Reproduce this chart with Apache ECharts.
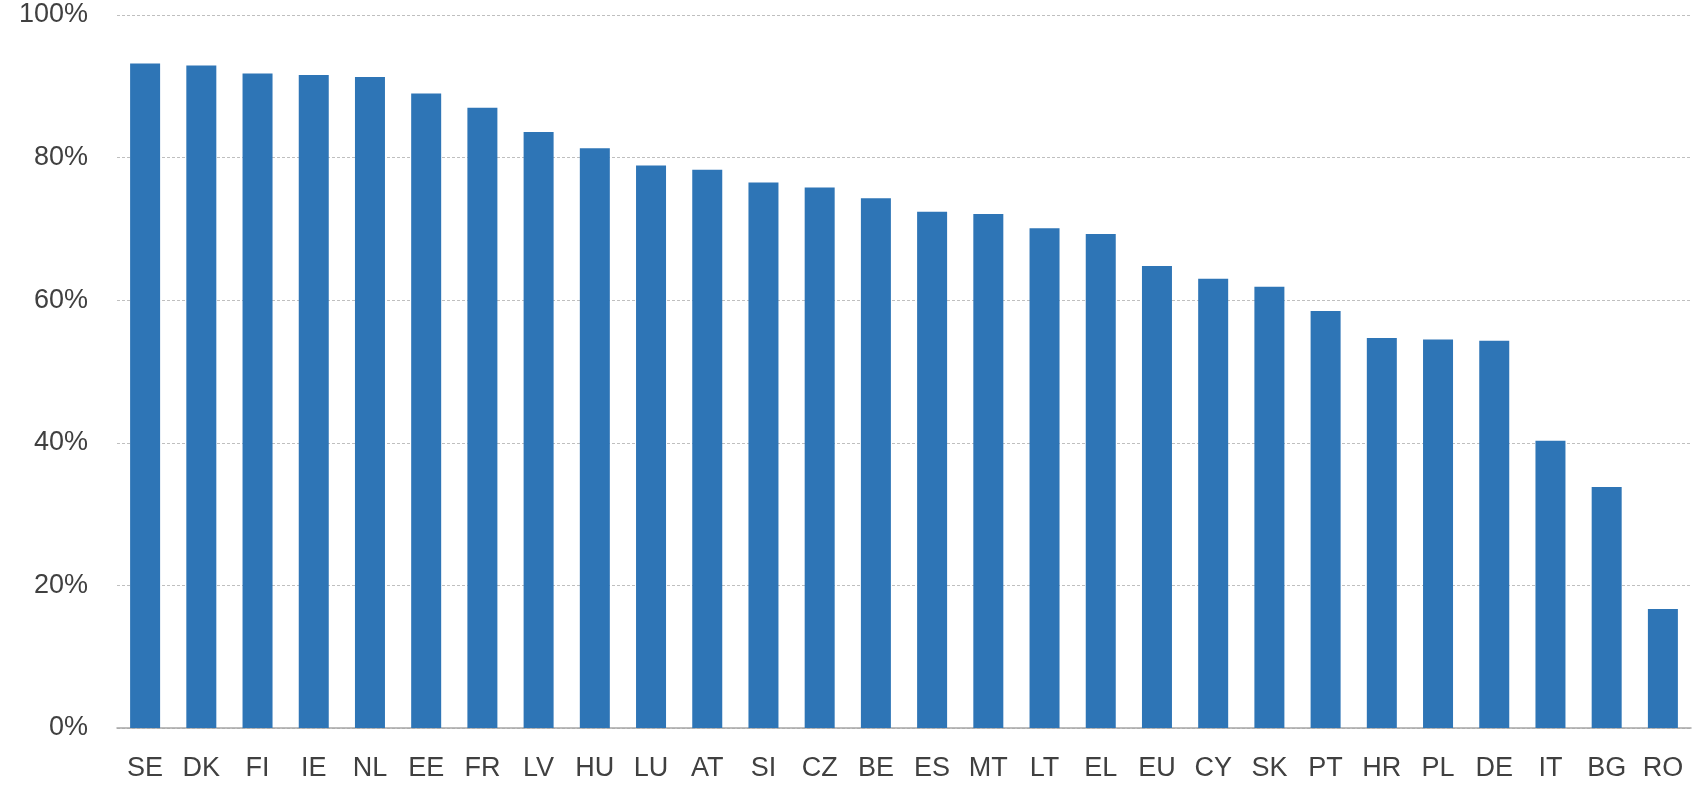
<!DOCTYPE html>
<html>
<head>
<meta charset="utf-8">
<style>
  html, body { margin: 0; padding: 0; background: #ffffff; }
  #chart { width: 1693px; height: 785px; }
</style>
<script src="https://cdn.jsdelivr.net/npm/echarts@6/dist/echarts.min.js"></script>
</head>
<body>
<div id="chart"></div>
<script>
const countries = ['SE','DK','FI','IE','NL','EE','FR','LV','HU','LU','AT','SI','CZ','BE','ES','MT','LT','EL','EU','CY','SK','PT','HR','PL','DE','IT','BG','RO'];
const shares = [93.2, 92.9, 91.8, 91.6, 91.3, 89.0, 87.0, 83.6, 81.3, 78.9, 78.3, 76.5, 75.8, 74.3, 72.4, 72.1, 70.1, 69.3, 64.8, 63.0, 61.9, 58.5, 54.7, 54.5, 54.3, 40.3, 33.8, 16.7];
const yTicks = [0, 20, 40, 60, 80, 100];

const chart = echarts.init(document.getElementById('chart'), null, { renderer: 'canvas' });
chart.setOption({
  animation: false,
  backgroundColor: '#ffffff',
  grid: { left: 117, right: 2, top: 15, bottom: 57, containLabel: false },
  xAxis: {
    type: 'category',
    data: countries,
    axisLine: { show: true, lineStyle: { color: '#a6a6a6', width: 1.5 } },
    axisTick: { show: false },
    axisLabel: {
      interval: 0,
      margin: 27,
      color: '#404040',
      fontFamily: 'Liberation Sans, sans-serif',
      fontSize: 27
    }
  },
  yAxis: {
    type: 'value',
    min: yTicks[0],
    max: yTicks[yTicks.length - 1],
    interval: 20,
    axisLine: { show: false },
    axisTick: { show: false },
    splitLine: { show: true, lineStyle: { color: '#bfbfbf', type: [3, 2], width: 1.2 } },
    axisLabel: {
      margin: 29,
      color: '#404040',
      fontFamily: 'Liberation Sans, sans-serif',
      fontSize: 27,
      formatter: v => v + '%'
    }
  },
  series: [{
    type: 'bar',
    data: shares,
    barWidth: 30,
    itemStyle: { color: '#2e75b6' }
  }]
});
</script>
</body>
</html>
